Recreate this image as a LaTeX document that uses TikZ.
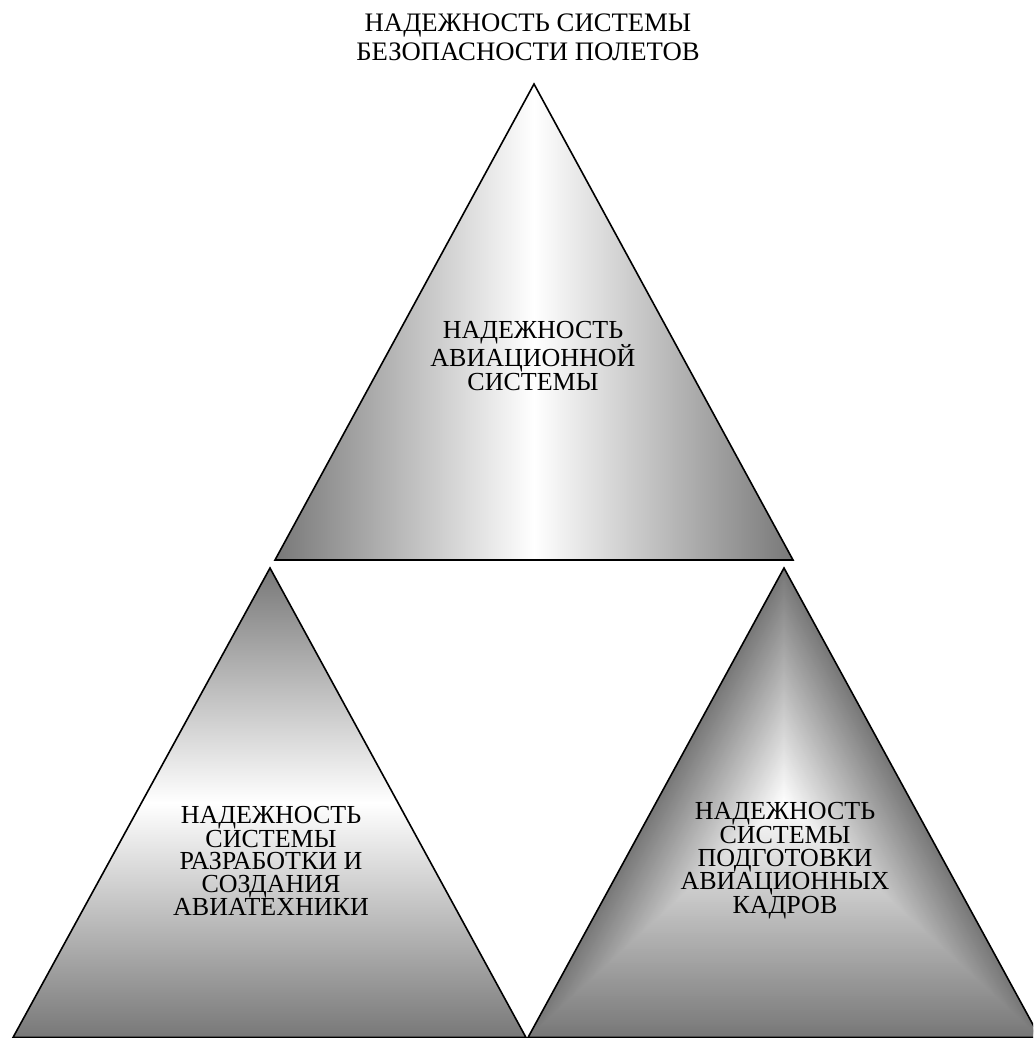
\documentclass[tikz,border=0pt]{standalone}
\usepackage{fontspec}
\setmainfont{Liberation Serif}
\definecolor{edgegray}{gray}{0.47}
\begin{document}
\begin{tikzpicture}[x=1pt,y=-1pt,
  outline/.style={draw=black,line width=1.6pt,line join=miter},
  lbl/.style={align=center,inner sep=0pt,font=\fontsize{26}{22.5}\selectfont},
  ttl/.style={align=center,inner sep=0pt,font=\fontsize{26.7}{29}\selectfont}]
\useasboundingbox (0,0) rectangle (1033,1038);
\begin{scope}
\clip (0,0) rectangle (1033,1038);
% top triangle: horizontal gradient
\shade[left color=edgegray,right color=edgegray,middle color=white]
  (534,84) -- (275,560) -- (793,560) -- cycle;
\draw[outline] (534,84) -- (275,560) -- (793,560) -- cycle;
% left triangle: vertical gradient
\shade[top color=edgegray,bottom color=edgegray,middle color=white]
  (270,568) -- (13,1037.5) -- (526,1037.5) -- cycle;
\draw[outline] (270,568) -- (13,1037.5) -- (526,1037.5) -- cycle;
% right triangle: path gradient from centre
\foreach \k in {0,...,119}{
  \pgfmathsetmacro\s{1-\k/120}
  \pgfmathsetmacro\w{100*\k/120}
  \fill[white!\w!edgegray,shift={(784,802)},scale=\s]
    (0,-234) -- (-256,235.5) -- (256,235.5) -- cycle;
}
\draw[outline] (784,568) -- (528,1037.5) -- (1040,1037.5) -- cycle;
\end{scope}
\node[ttl] (title) at (528,37) {НАДЕЖНОСТЬ СИСТЕМЫ\\БЕЗОПАСНОСТИ ПОЛЕТОВ};
\node[lbl] (top) at (533,356) {НАДЕЖНОСТЬ\\АВИАЦИОННОЙ\\СИСТЕМЫ};
\node[lbl] (left) at (271,861) {НАДЕЖНОСТЬ\\СИСТЕМЫ\\РАЗРАБОТКИ И\\СОЗДАНИЯ\\АВИАТЕХНИКИ};
\node[lbl] (right) at (785,861) {НАДЕЖНОСТЬ\\СИСТЕМЫ\\ПОДГОТОВКИ\\АВИАЦИОННЫХ\\КАДРОВ};
\end{tikzpicture}
\end{document}
